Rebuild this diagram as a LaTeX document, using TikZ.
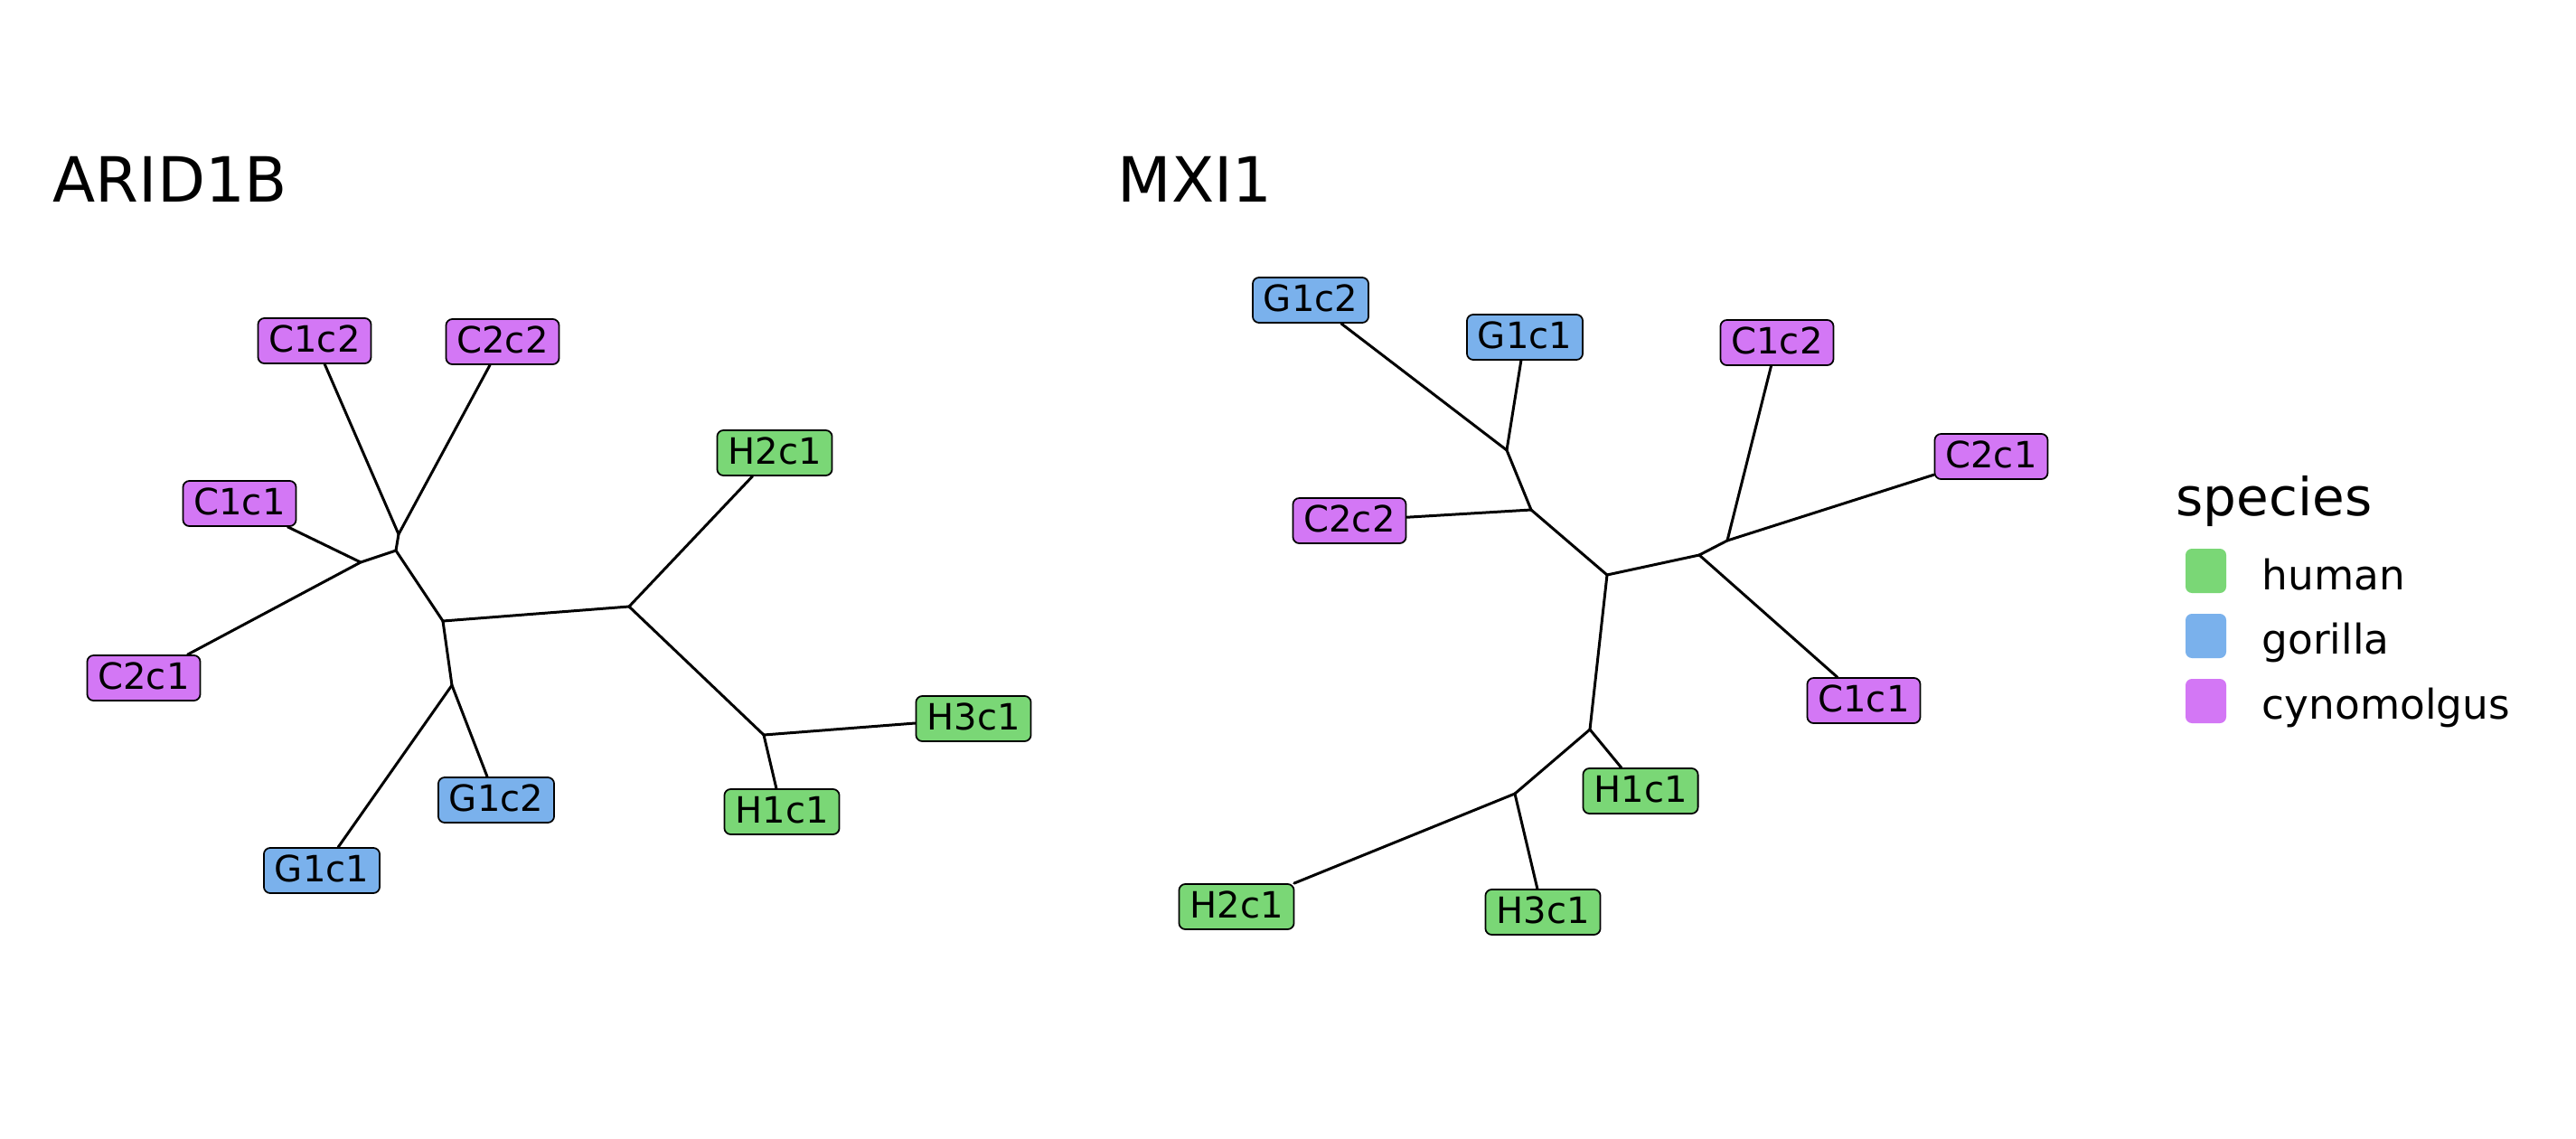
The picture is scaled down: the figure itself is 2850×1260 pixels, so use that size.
\documentclass[tikz,border=0pt]{standalone}
\usepackage{fontspec}
\setmainfont{DejaVu Sans}
\definecolor{human}{HTML}{7AD776}
\definecolor{gorilla}{HTML}{7AB1EC}
\definecolor{cyno}{HTML}{D377F5}
\tikzset{
  lbl/.style={draw=black, line width=0.5pt, rounded corners=2pt, inner xsep=0.12cm, inner ysep=0pt,
    minimum height=0.5cm, text height=0.73em, text depth=0pt, font=\fontsize{11.4}{12}\selectfont},
  hum/.style={lbl, fill=human},
  gor/.style={lbl, fill=gorilla},
  cyn/.style={lbl, fill=cyno},
  edge/.style={line width=0.85pt, line cap=round, line join=round},
  title/.style={anchor=base west, inner sep=0pt, font=\fontsize{19.6}{22}\selectfont},
  legtitle/.style={anchor=base west, inner sep=0pt, font=\fontsize{16.5}{18}\selectfont},
  leglab/.style={anchor=base west, inner sep=0pt, font=\fontsize{12.9}{14}\selectfont},
  key/.style={rounded corners=2pt, draw=none}
}
\begin{document}
\begin{tikzpicture}[x=0.01cm, y=-0.01cm]
\useasboundingbox (0,0) rectangle (2850,1260);
% titles
\node[title] (t1) at (58,223) {ARID1B};
\node[title] (t2) at (1236,223) {MXI1};
% ---------- left tree ----------
\node[cyn] (lC1c2) at (348,377) {C1c2};
\node[cyn] (lC2c2) at (556,378) {C2c2};
\node[cyn] (lC1c1) at (265,557) {C1c1};
\node[cyn] (lC2c1) at (159,750) {C2c1};
\node[hum] (lH2c1) at (857,501) {H2c1};
\node[hum] (lH3c1) at (1077,795) {H3c1};
\node[gor] (lG1c2) at (549,885) {G1c2};
\node[hum] (lH1c1) at (865,898) {H1c1};
\node[gor] (lG1c1) at (356,963) {G1c1};
\coordinate (la1) at (441,591);
\coordinate (la2) at (438,609);
\coordinate (la3) at (399,622);
\coordinate (lr) at (490,687);
\coordinate (lg) at (500,758);
\coordinate (lh) at (696,671);
\coordinate (lh2) at (845,813);
\draw[edge] (lC1c2) -- (la1);
\draw[edge] (lC2c2) -- (la1);
\draw[edge] (la1) -- (la2);
\draw[edge] (la2) -- (la3);
\draw[edge] (lC1c1) -- (la3);
\draw[edge] (lC2c1) -- (la3);
\draw[edge] (la2) -- (lr);
\draw[edge] (lr) -- (lg);
\draw[edge] (lg) -- (lG1c1);
\draw[edge] (lg) -- (lG1c2);
\draw[edge] (lr) -- (lh);
\draw[edge] (lh) -- (lH2c1);
\draw[edge] (lh) -- (lh2);
\draw[edge] (lh2) -- (lH3c1);
\draw[edge] (lh2) -- (lH1c1);
% ---------- right tree ----------
\node[gor] (rG1c2) at (1450,332) {G1c2};
\node[gor] (rG1c1) at (1687,373) {G1c1};
\node[cyn] (rC1c2) at (1966,379) {C1c2};
\node[cyn] (rC2c1) at (2203,505) {C2c1};
\node[cyn] (rC2c2) at (1493,576) {C2c2};
\node[cyn] (rC1c1) at (2062,775) {C1c1};
\node[hum] (rH1c1) at (1815,875) {H1c1};
\node[hum] (rH2c1) at (1368,1003) {H2c1};
\node[hum] (rH3c1) at (1707,1009) {H3c1};
\coordinate (rg) at (1667,498);
\coordinate (rc2) at (1694,564);
\coordinate (rr) at (1778,636);
\coordinate (rca) at (1880,614);
\coordinate (rcb) at (1911,598);
\coordinate (rh) at (1759,807);
\coordinate (rh2) at (1676,878);
\draw[edge] (rG1c2) -- (rg);
\draw[edge] (rG1c1) -- (rg);
\draw[edge] (rg) -- (rc2);
\draw[edge] (rC2c2) -- (rc2);
\draw[edge] (rc2) -- (rr);
\draw[edge] (rr) -- (rca);
\draw[edge] (rca) -- (rcb);
\draw[edge] (rcb) -- (rC1c2);
\draw[edge] (rcb) -- (rC2c1);
\draw[edge] (rca) -- (rC1c1);
\draw[edge] (rr) -- (rh);
\draw[edge] (rh) -- (rH1c1);
\draw[edge] (rh) -- (rh2);
\draw[edge] (rh2) -- (rH2c1);
\draw[edge] (rh2) -- (rH3c1);
% ---------- legend ----------
\node[legtitle] (lt) at (2407,570) {species};
\fill[key, human] (2418,607) rectangle (2463,656);
\fill[key, gorilla] (2418,679) rectangle (2463,728);
\fill[key, cyno] (2418,751) rectangle (2463,800);
\node[leglab] (k1) at (2502,652) {human};
\node[leglab] (k2) at (2502,723) {gorilla};
\node[leglab] (k3) at (2502,795) {cynomolgus};
\end{tikzpicture}
\end{document}
